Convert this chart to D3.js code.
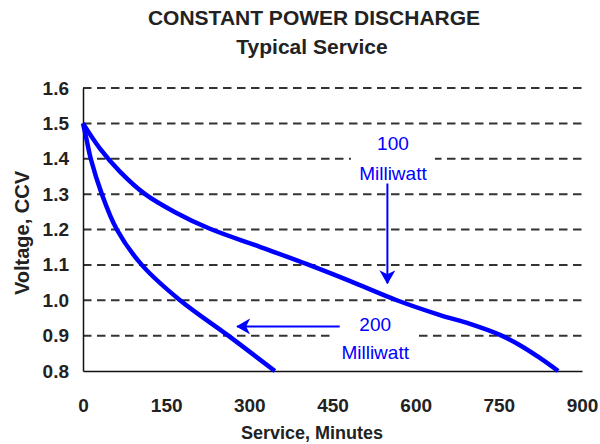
<!DOCTYPE html>
<html>
<head>
<meta charset="utf-8">
<script src="https://cdn.jsdelivr.net/npm/d3@7"></script>
<style>
  html, body { margin: 0; padding: 0; background: #fff; }
  svg { display: block; }
  text { font-family: "Liberation Sans", Arial, sans-serif; }
</style>
</head>
<body>
<svg id="chart" width="600" height="444"></svg>
<script>
// ---- data ----
const titleText = "CONSTANT POWER DISCHARGE";
const subtitleText = "Typical Service";
const xLabel = "Service, Minutes";
const yLabel = "Voltage, CCV";
const xTicks = [0, 150, 300, 450, 600, 750, 900];
const yTicks = [0.8, 0.9, 1.0, 1.1, 1.2, 1.3, 1.4, 1.5, 1.6];

// 100 milliwatt curve
const mw100Minutes = [0, 31, 67, 112, 166, 229, 319, 404, 482, 566, 644, 698, 752, 788, 824, 857];
const mw100Volts   = [1.5, 1.428, 1.363, 1.3, 1.249, 1.202, 1.151, 1.102, 1.054, 1.0, 0.958, 0.933, 0.902, 0.873, 0.837, 0.8];
// 200 milliwatt curve
const mw200Minutes = [0, 7, 14, 34, 61, 106, 175, 262, 346];
const mw200Volts   = [1.5, 1.45, 1.4, 1.3, 1.2, 1.1, 1.0, 0.9, 0.8];

// annotations (data units)
const labelNames = ["100", "200"];
const labelX     = [559, 527];
const labelY1    = [1.445, 0.933];
const labelY2    = [1.36, 0.855];
const arrowFromX = [549, 463];
const arrowFromY = [1.33, 0.926];
const arrowToX   = [549, 278];
const arrowToY   = [1.048, 0.926];

// ---- chart ----
const svg = d3.select("#chart");
const x = d3.scaleLinear().domain([0, 900]).range([83, 582]);
const y = d3.scaleLinear().domain([0.8, 1.6]).range([371, 88]);
const blue = "#0000ff";

svg.append("text").attr("x", 314).attr("y", 25).attr("text-anchor", "middle")
  .attr("font-size", 21).attr("font-weight", "bold").attr("fill", "#222").text(titleText);
svg.append("text").attr("x", 312).attr("y", 54).attr("text-anchor", "middle")
  .attr("font-size", 21).attr("font-weight", "bold").attr("fill", "#222").text(subtitleText);

// gridlines
svg.append("g").selectAll("line").data(yTicks.filter(d => d > 0.85)).join("line")
  .attr("x1", x(0)).attr("x2", x(900))
  .attr("y1", d => y(d)).attr("y2", d => y(d))
  .attr("stroke", "#333").attr("stroke-width", 2)
  .attr("stroke-dasharray", "8.5,5.5");

// axes
const yAxis = d3.axisLeft(y).tickValues(yTicks).tickFormat(d3.format(".1f")).tickSize(0).tickPadding(14);
const gy = svg.append("g").attr("transform", `translate(${x(0)},0)`).call(yAxis);
const xAxis = d3.axisBottom(x).tickValues(xTicks).tickFormat(d3.format("d")).tickSize(0).tickPadding(28);
const gx = svg.append("g").attr("transform", `translate(0,${y(0.8)})`).call(xAxis);
[gx, gy].forEach(g => {
  g.select(".domain").attr("stroke", "#111").attr("stroke-width", 1.5);
  g.selectAll("text").attr("font-size", 19).attr("font-weight", "bold").attr("fill", "#222")
    .attr("font-family", "'Liberation Sans', Arial, sans-serif");
});

svg.append("text").attr("x", 312).attr("y", 439).attr("text-anchor", "middle")
  .attr("font-size", 18).attr("font-weight", "bold").attr("fill", "#222").text(xLabel);
svg.append("text").attr("transform", `translate(29,233) rotate(-90)`).attr("text-anchor", "middle")
  .attr("font-size", 20).attr("font-weight", "bold").attr("fill", "#222").text(yLabel);

// annotation backgrounds + text
labelNames.forEach((n, i) => {
  const cx = x(labelX[i]);
  svg.append("rect").attr("x", cx - 42).attr("y", y(labelY1[i]) - 15).attr("width", 84)
    .attr("height", y(labelY2[i]) - y(labelY1[i]) + 27).attr("fill", "#fff");
  svg.append("text").attr("x", cx).attr("y", y(labelY1[i]) + 7).attr("text-anchor", "middle")
    .attr("font-size", 19).attr("fill", blue).text(n);
  svg.append("text").attr("x", cx).attr("y", y(labelY2[i]) + 7).attr("text-anchor", "middle")
    .attr("font-size", 19).attr("fill", blue).text("Milliwatt");
});

// arrows
const defs = svg.append("defs");
defs.append("marker").attr("id", "ah").attr("viewBox", "0 0 14 16").attr("refX", 13).attr("refY", 8)
  .attr("markerWidth", 14).attr("markerHeight", 16).attr("markerUnits", "userSpaceOnUse")
  .attr("orient", "auto")
  .append("path").attr("d", "M0,0 L14,8 L0,16 L4,8 Z").attr("fill", blue);
arrowFromX.forEach((_, i) => {
  svg.append("line").attr("x1", x(arrowFromX[i])).attr("y1", y(arrowFromY[i]))
    .attr("x2", x(arrowToX[i])).attr("y2", y(arrowToY[i]))
    .attr("stroke", blue).attr("stroke-width", 2).attr("marker-end", "url(#ah)");
});

// curves
const line = d3.line().x(d => x(d[0])).y(d => y(d[1])).curve(d3.curveCatmullRom.alpha(0.5));
[[mw100Minutes, mw100Volts], [mw200Minutes, mw200Volts]].forEach(([xs, ys]) => {
  svg.append("path").datum(xs.map((m, i) => [m, ys[i]]))
    .attr("d", line).attr("fill", "none").attr("stroke", blue).attr("stroke-width", 4.5)
    .attr("stroke-linecap", "butt");
});
</script>
</body>
</html>
